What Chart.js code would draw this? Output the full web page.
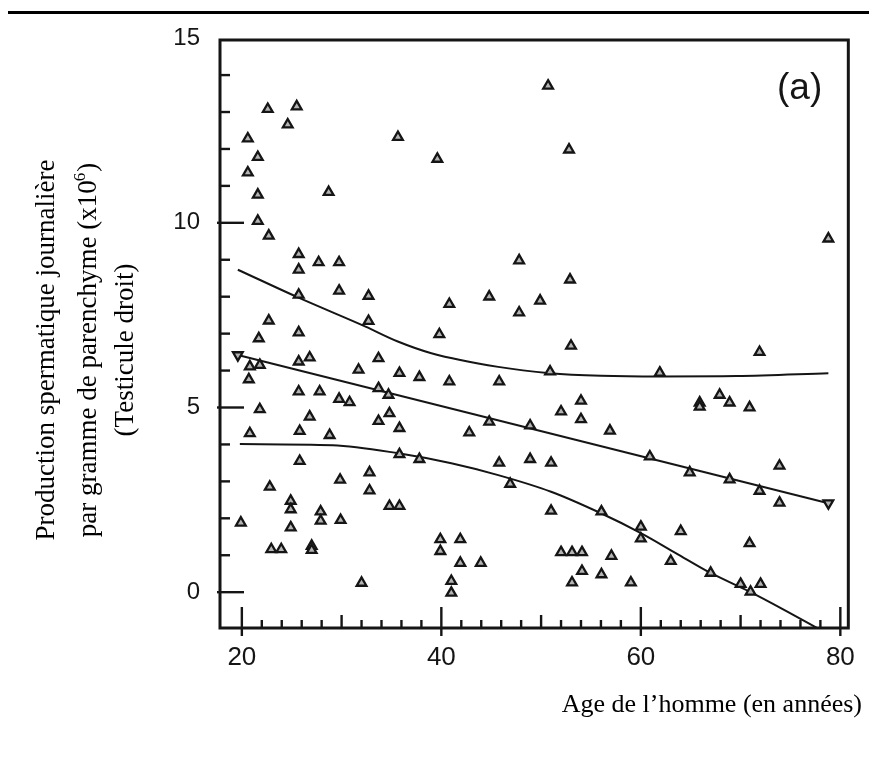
<!DOCTYPE html>
<html><head><meta charset="utf-8">
<script src="https://cdn.jsdelivr.net/npm/chart.js@4/dist/chart.umd.min.js"></script>
<style>
html,body{margin:0;padding:0;background:#fff;}
#wrap{position:relative;width:869px;height:771px;overflow:hidden;}
#rule{position:absolute;left:8px;top:11px;width:861px;height:3px;background:#000;}
canvas{position:absolute;left:0;top:0;}
</style></head><body>
<div id="wrap"><canvas id="c" width="869" height="771"></canvas><div id="rule"></div></div>
<script>
// ---- data ----
const ages = [
 22.6,25.5,24.6,20.6,35.65,21.6,20.6,39.6,21.6,28.7,
 21.6,22.7,50.7,52.8,25.7,25.7,27.7,29.75,25.7,29.75,
 32.7,32.7,22.7,40.8,44.8,47.8,47.8,39.8,25.7,21.7,
 20.8,21.8,20.7,25.7,26.8,31.7,33.7,35.8,37.8,40.8,
 45.8,25.7,27.8,33.7,34.7,29.75,30.8,21.8,26.8,33.7,
 34.8,35.8,44.8,42.8,20.8,25.8,28.8,52.9,49.9,53.0,
 78.8,71.9,50.9,61.9,54.0,52.0,54.0,56.9,48.9,65.9,
 65.9,67.9,68.9,70.9,25.8,35.8,37.8,45.8,46.9,22.8,
 29.85,32.8,32.8,24.9,24.9,24.9,27.9,27.9,29.9,34.8,
 35.8,19.9,22.95,23.95,27.0,27.0,32.0,39.9,39.9,41.9,
 41.9,43.95,41.0,41.0,60.9,64.9,68.9,71.9,73.9,73.9,
 48.9,51.0,51.0,56.05,60.0,60.0,64.0,70.9,52.0,53.1,
 54.1,57.05,54.1,53.1,56.05,59.0,63.0,67.0,70.0,
 71.0,72.0];
const production = [
 13.08,13.15,12.66,12.28,12.32,11.78,11.36,11.73,10.76,10.83,
 10.05,9.65,13.71,11.98,9.15,8.73,8.93,8.93,8.05,8.16,
 8.02,7.34,7.35,7.8,8.0,8.98,7.57,6.98,7.03,6.87,
 6.11,6.15,5.76,6.24,6.35,6.02,6.33,5.93,5.82,5.7,
 5.7,5.43,5.43,5.52,5.34,5.23,5.14,4.95,4.75,4.63,
 4.84,4.44,4.61,4.32,4.3,4.36,4.25,8.46,7.89,6.67,
 9.57,6.5,5.97,5.94,5.18,4.89,4.68,4.37,4.51,5.13,
 5.02,5.34,5.13,5.0,3.55,3.73,3.6,3.5,2.93,2.85,
 3.04,3.24,2.75,2.47,2.24,1.75,2.18,1.93,1.95,2.33,
 2.33,1.88,1.16,1.16,1.25,1.14,0.25,1.43,1.11,1.43,
 0.79,0.79,0.3,-0.02,3.67,3.24,3.05,2.74,3.42,2.42,
 3.6,3.5,2.2,2.18,1.77,1.45,1.65,1.32,1.08,1.08,
 1.08,0.98,0.57,0.26,0.48,0.26,0.84,0.52,0.22,
 0.01,0.22];

// regression line (with its end markers) and the two bound curves
const regAges = [19.6, 78.8];
const regValues = [6.42, 2.41];
const upperAges = [19.6, 25.8, 32.4, 35.7, 39.0, 45.7, 50.9, 56.0, 61.9, 69.6, 78.8];
const upperValues = [8.73, 7.96, 7.19, 6.78, 6.47, 6.10, 5.93, 5.86, 5.84, 5.85, 5.93];
const lowerAges = [19.8, 29.1, 35.7, 41.0, 45.7, 51.0, 55.9, 60.0, 63.5, 67.0, 71.0, 74.5, 78.0];
const lowerValues = [4.01, 3.98, 3.76, 3.49, 3.17, 2.72, 2.15, 1.60, 1.06, 0.52, 0.0, -0.50, -1.02];

const xTickValues = [20, 40, 60, 80];
const yTickValues = [0, 5, 10, 15];

const yTitleLines = ['Production spermatique journalière', 'par gramme de parenchyme (x10', '(Testicule droit)'];
const yTitleSup = '6';
const xTitle = 'Age de l\u2019homme (en années)';
const panelLabel = '(a)';

// ---- build ----
const zip = (xs, ys) => xs.map((v, i) => ({x: v, y: ys[i]}));
const INK = '#151515';

const framePlugin = {
  id: 'frame',
  afterDraw(chart) {
    const {ctx, chartArea: a, scales: {x, y}} = chart;
    ctx.save();
    ctx.strokeStyle = INK;
    ctx.lineCap = 'butt';
    // box
    ctx.lineWidth = 3;
    ctx.strokeRect(a.left, a.top, a.right - a.left, a.bottom - a.top);
    // y inside ticks
    ctx.lineWidth = 2.4;
    for (let v = 0; v <= 14; v++) {
      const py = y.getPixelForValue(v);
      const major = yTickValues.includes(v);
      ctx.beginPath();
      ctx.moveTo(a.left - (major ? 3 : 0), py);
      ctx.lineTo(a.left + (major ? 24 : 10), py);
      ctx.stroke();
    }
    // x inside ticks
    for (let v = 20; v <= 80; v += 2) {
      const px = x.getPixelForValue(v);
      const major = xTickValues.includes(v);
      const mid = (v % 10 === 0) && !major;
      ctx.beginPath();
      ctx.moveTo(px, a.bottom + (major ? 8 : 0));
      ctx.lineTo(px, a.bottom - (major ? 21 : (mid ? 13 : 8)));
      ctx.stroke();
    }
    // panel label
    ctx.fillStyle = INK;
    ctx.font = '37px "Liberation Sans", Arial, sans-serif';
    ctx.textAlign = 'left';
    ctx.textBaseline = 'alphabetic';
    ctx.fillText(panelLabel, 777, 99);

    // x title
    ctx.fillStyle = '#000';
    ctx.font = '26px "Liberation Serif", "Times New Roman", serif';
    ctx.textAlign = 'right';
    ctx.fillText(xTitle, 862, 712);

    // y title (rotated)
    ctx.save();
    ctx.translate(0, 350);
    ctx.rotate(-Math.PI / 2);
    const f = 27;
    ctx.font = f + 'px "Liberation Serif", "Times New Roman", serif';
    ctx.textAlign = 'center';
    ctx.fillText(yTitleLines[0], 0, 54);
    ctx.fillText(yTitleLines[2], 0, 133);
    // line 2 with superscript
    const w1 = ctx.measureText(yTitleLines[1]).width;
    const wClose = ctx.measureText(')').width;
    ctx.font = Math.round(f * 0.62) + 'px "Liberation Serif", "Times New Roman", serif';
    const wSup = ctx.measureText(yTitleSup).width;
    const total = w1 + wSup + wClose;
    let sx = -total / 2;
    ctx.textAlign = 'left';
    ctx.font = f + 'px "Liberation Serif", "Times New Roman", serif';
    ctx.fillText(yTitleLines[1], sx, 96);
    ctx.font = Math.round(f * 0.62) + 'px "Liberation Serif", "Times New Roman", serif';
    ctx.fillText(yTitleSup, sx + w1 - 1, 96 - 11);
    ctx.font = f + 'px "Liberation Serif", "Times New Roman", serif';
    ctx.fillText(')', sx + w1 + wSup, 96);
    ctx.restore();
    ctx.restore();
  }
};

const tri = {
  pointStyle: 'triangle',
  pointRadius: 5.6,
  pointBorderWidth: 2.3,
  pointBorderColor: INK,
  pointBackgroundColor: '#b4b4b4'
};

new Chart(document.getElementById('c'), {
  type: 'scatter',
  data: {
    datasets: [
      Object.assign({label: 'points', data: zip(ages, production), showLine: false}, tri),
      {label: 'upper', data: zip(upperAges, upperValues), showLine: true, borderColor: INK, borderWidth: 2,
       pointRadius: 0, cubicInterpolationMode: 'monotone', fill: false},
      {label: 'lower', data: zip(lowerAges, lowerValues), showLine: true, borderColor: INK, borderWidth: 2,
       pointRadius: 0, cubicInterpolationMode: 'monotone', fill: false},
      Object.assign({label: 'regression', data: zip(regAges, regValues), showLine: true, borderColor: INK,
       borderWidth: 2, pointRotation: 180}, tri)
    ]
  },
  options: {
    responsive: false,
    animation: false,
    events: [],
    layout: {padding: {top: 40, right: 16, bottom: 0, left: 0}},
    plugins: {legend: {display: false}, tooltip: {enabled: false}},
    scales: {
      x: {
        type: 'linear', min: 17.81, max: 80.8, position: 'bottom',
        grid: {display: false, drawTicks: false},
        border: {display: false},
        ticks: {color: INK, padding: 14, font: {family: '"Liberation Sans", Arial, sans-serif', size: 26},
                maxRotation: 0, autoSkip: false},
        afterBuildTicks: s => { s.ticks = xTickValues.map(v => ({value: v})); },
        afterFit: s => { s.height = 143; }
      },
      y: {
        type: 'linear', min: -0.97, max: 14.95, position: 'left',
        grid: {display: false, drawTicks: false},
        border: {display: false},
        ticks: {color: INK, padding: 20, font: {family: '"Liberation Sans", Arial, sans-serif', size: 24},
                autoSkip: false},
        afterBuildTicks: s => { s.ticks = yTickValues.map(v => ({value: v})); },
        afterFit: s => { s.height = s.height; s.width = 220; }
      }
    }
  },
  plugins: [framePlugin]
});
</script>
</body></html>
